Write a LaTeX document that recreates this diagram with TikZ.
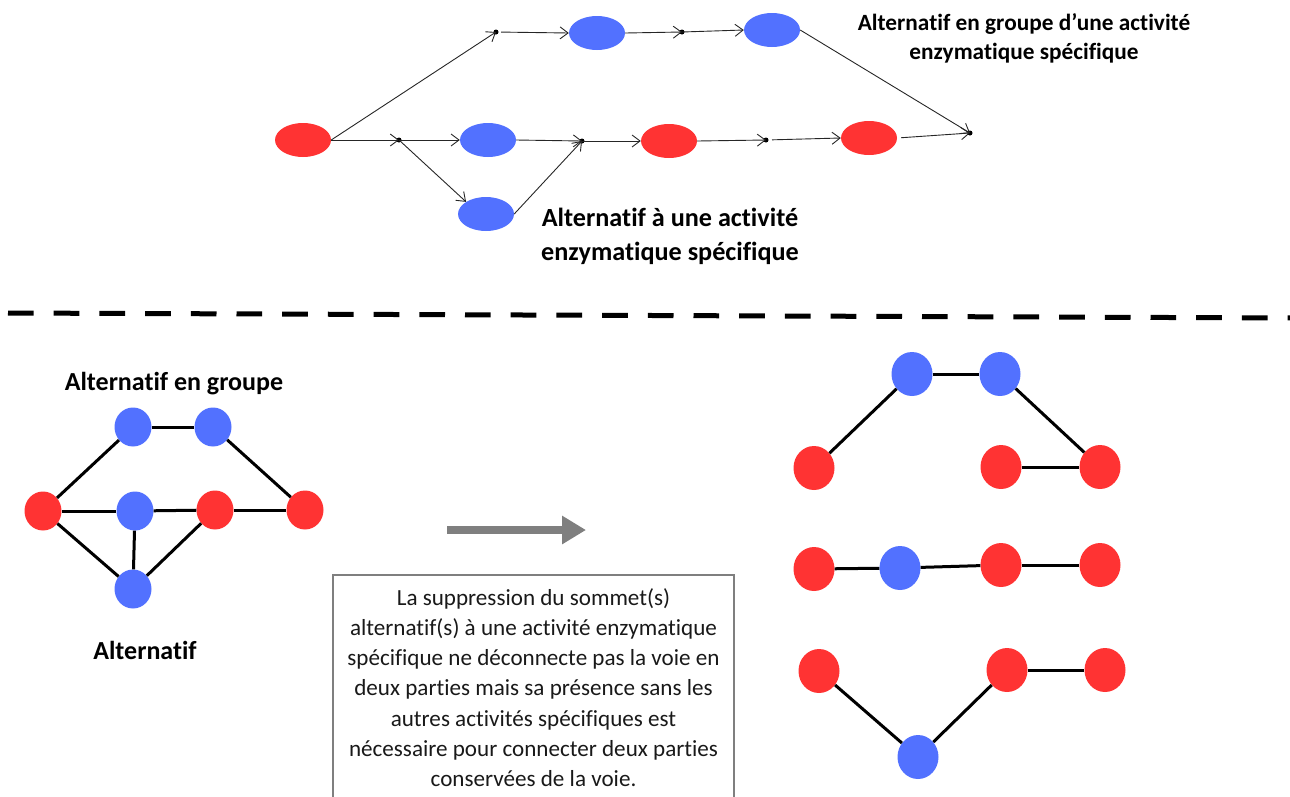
\documentclass[tikz,border=0pt]{standalone}
\usepackage{fontspec}
\setmainfont[Ligatures=NoCommon,RawFeature={-calt;-dlig}]{Carlito}
\usetikzlibrary{shapes.geometric,arrows.meta}
\definecolor{nred}{RGB}{255,51,51}
\definecolor{nblue}{RGB}{82,113,255}
\definecolor{agray}{RGB}{127,127,127}
\tikzset{
  topell/.style={ellipse,draw=none,minimum width=56pt,minimum height=34pt,inner sep=0pt},
  tred/.style={topell,fill=nred},
  tblue/.style={topell,fill=nblue},
  jdot/.style={circle,fill=black,inner sep=0pt,minimum size=5pt},
  flow/.style={draw=black!85,line width=0.9pt,-{Straight Barb[length=8pt,width=12pt]}},
  gnode/.style={ellipse,draw=none,minimum width=37pt,minimum height=39pt,inner sep=0pt},
  gred/.style={gnode,fill=nred},
  gblue/.style={gnode,fill=nblue},
  rnode/.style={ellipse,draw=none,minimum width=41pt,minimum height=44pt,inner sep=0pt},
  rred/.style={rnode,fill=nred},
  rblue/.style={rnode,fill=nblue},
  gedge/.style={draw=black,line width=3pt},
  lbl/.style={font=\bfseries,align=center,inner sep=0pt},
}
\begin{document}
\begin{tikzpicture}[x=1pt,y=-1pt]
\useasboundingbox (0,0) rectangle (1290,796);
% ---- top section ----
\node[tred]  (e0) at (303,140) {};
\node[jdot]  (d1) at (496,32) {};
\node[tblue] (b1) at (597,33) {};
\node[jdot]  (d2) at (682,32) {};
\node[tblue] (b2) at (772,30) {};
\node[jdot]  (d3) at (399,140) {};
\node[tblue] (b3) at (488,140) {};
\node[jdot]  (d4) at (582,141) {};
\node[tred]  (r2) at (669,141) {};
\node[jdot]  (d5) at (766,140) {};
\node[tred]  (r3) at (869,138) {};
\node[jdot]  (de) at (970,133) {};
\node[tblue] (b4) at (486,214) {};

\draw[flow] (e0.east) -- (d1.center);
\draw[flow,shorten <=5pt] (d1.center) -- (b1.west);
\draw[flow] (b1.east) -- (d2.center);
\draw[flow] (d2.center) -- (b2.west);
\draw[flow] (b2.east) -- (de.center);
\draw[flow] (e0.east) -- (d3.center);
\draw[flow] (d3.center) -- (b3.west);
\draw[flow] (b3.east) -- (d4.center);
\draw[flow] (d4.center) -- (r2.west);
\draw[flow] (r2.east) -- (d5.center);
\draw[flow,shorten <=6pt] (d5.center) -- (r3.west);
\draw[flow,shorten <=4pt] (r3.east) -- (de.center);
\draw[flow] (d3.center) -- (b4.north west);
\draw[flow] (b4.east) -- (d4.center);

\node[lbl,font=\bfseries\fontsize{23.3}{29}\selectfont] (t1) at (1024,38) {Alternatif en groupe d’une activité\\enzymatique spécifique};
\node[lbl,font=\bfseries\fontsize{26.2}{34}\selectfont] (t2) at (670,236) {Alternatif à une activité\\enzymatique spécifique};

% ---- separator ----
\coordinate (sepL) at (8,313);
\coordinate (sepR) at (1300,318);
\draw[line width=5pt,dash pattern=on 25.7pt off 20pt] (sepL) -- (sepR);

% ---- bottom-left graph ----
\node[lbl,font=\bfseries\fontsize{26}{30}\selectfont] (t3) at (174,384) {Alternatif en groupe};
\node[gblue] (bt1) at (133,427) {};
\node[gblue] (bt2) at (213,427) {};
\node[gred]  (rl)  at (43,511) {};
\node[gblue] (bm)  at (135,511) {};
\node[gred]  (rm)  at (215,510) {};
\node[gred]  (rr)  at (305,510) {};
\node[gblue] (bb)  at (133,589) {};
\node[lbl,font=\bfseries\fontsize{26}{30}\selectfont] (t4) at (145,650) {Alternatif};
\draw[gedge] (rl) -- (bt1);
\draw[gedge] (bt1) -- (bt2);
\draw[gedge] (bt2) -- (rr);
\draw[gedge] (rl) -- (bm);
\draw[gedge] (bm) -- (rm);
\draw[gedge] (rm) -- (rr);
\draw[gedge] (rl) -- (bb);
\draw[gedge] (bm) -- (bb);
\draw[gedge] (rm) -- (bb);

% ---- gray arrow ----
\coordinate (ga) at (447,530);
\coordinate (gb) at (586,530);
\draw[agray,line width=8pt,-{Triangle[length=24pt,width=27pt]}] (ga) -- (gb);

% ---- text box ----
\draw[agray,line width=2.5pt] (333,810) -- (333,575) -- (734,575) -- (734,810);
\node[align=center,inner sep=0pt,font=\fontsize{23.1}{30.2}\selectfont,text=black!90] (box) at (533.5,687.5)
{La suppression du sommet(s)\\alternatif(s) à une activité enzymatique\\spécifique ne déconnecte pas la voie en\\deux parties mais sa présence sans les\\autres activités spécifiques est\\nécessaire pour connecter deux parties\\conservées de la voie.};

% ---- right graphs ----
\node[rblue] (a1) at (912,374) {};
\node[rblue] (a2) at (1000,374) {};
\node[rred]  (a3) at (814,468) {};
\node[rred]  (a4) at (1001,467) {};
\node[rred]  (a5) at (1100,467) {};
\draw[gedge] (a3) -- (a1);
\draw[gedge] (a1) -- (a2);
\draw[gedge] (a2) -- (a5);
\draw[gedge] (a4) -- (a5);

\node[rred]  (c1) at (814,569) {};
\node[rblue] (c2) at (900,568) {};
\node[rred]  (c3) at (1001,565) {};
\node[rred]  (c4) at (1100,565) {};
\draw[gedge] (c1) -- (c2);
\draw[gedge] (c2) -- (c3);
\draw[gedge] (c3) -- (c4);

\node[rred]  (f1) at (819,671) {};
\node[rblue] (f2) at (918,757) {};
\node[rred]  (f3) at (1007,670) {};
\node[rred]  (f4) at (1105,670) {};
\draw[gedge] (f1) -- (f2);
\draw[gedge] (f2) -- (f3);
\draw[gedge] (f3) -- (f4);
\end{tikzpicture}
\end{document}
